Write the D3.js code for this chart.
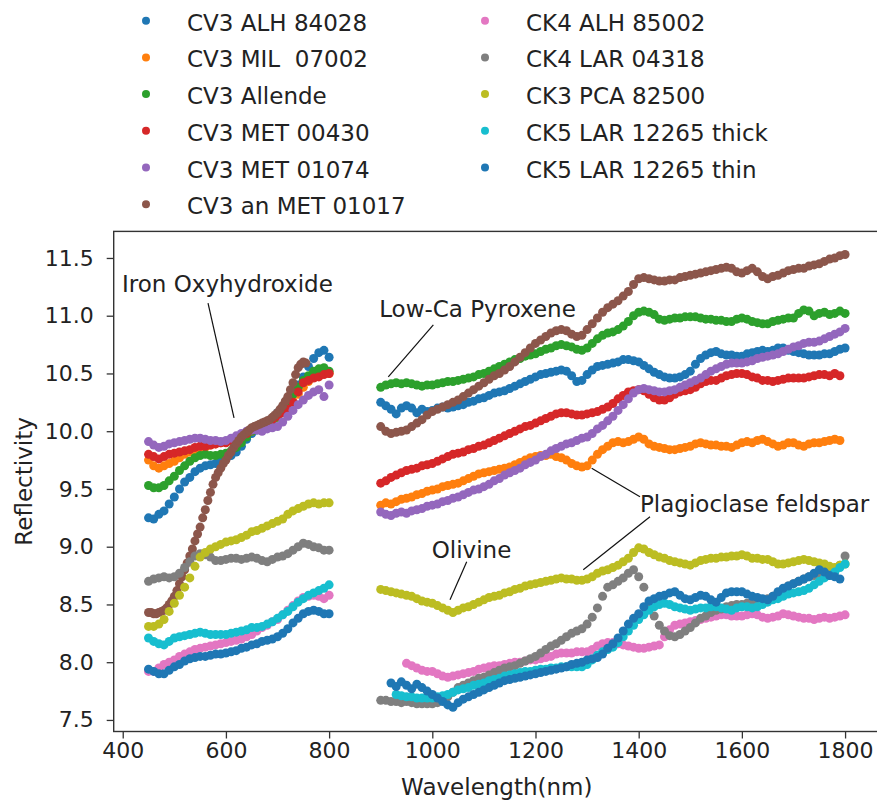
<!DOCTYPE html>
<html>
<head>
<meta charset="utf-8">
<script src="https://cdn.jsdelivr.net/npm/d3@7"></script>
<style>
  body { margin: 0; background: #fff; }
  text { font-family: "DejaVu Sans", sans-serif; fill: #222; }
</style>
</head>
<body>
<div id="chart"></div>
<script>
const width = 877;
const height = 803;

// wavelengths (nm) sampled in the two measured windows
const leftWl = [450, 460, 470, 480, 490, 500, 510, 520, 530, 540, 550, 560, 570, 580, 590, 600, 610, 620,
  630, 640, 650, 660, 670, 680, 690, 700, 710, 720, 730, 740, 750, 760, 770, 780, 790, 800];
// finer grid, used where a spectrum climbs steeply
const leftWlFine = [450, 455, 460, 465, 470, 475, 480, 485, 490, 495,
  500, 505, 510, 515, 520, 525, 530, 535, 540, 545,
  550, 555, 560, 565, 570, 575, 580, 585, 590, 595,
  600, 605, 610, 615, 620, 625, 630, 635, 640, 645,
  650, 655, 660, 665, 670, 675, 680, 685, 690, 695,
  700, 705, 710, 715, 720, 725, 730, 735, 740, 745,
  750, 755, 760, 765, 770, 775, 780, 785, 790, 795,
  800];
const rightWl = [900, 910, 920, 930, 940, 950, 960, 970, 980, 990,
  1000, 1010, 1020, 1030, 1040, 1050, 1060, 1070, 1080, 1090,
  1100, 1110, 1120, 1130, 1140, 1150, 1160, 1170, 1180, 1190,
  1200, 1210, 1220, 1230, 1240, 1250, 1260, 1270, 1280, 1290,
  1300, 1310, 1320, 1330, 1340, 1350, 1360, 1370, 1380, 1390,
  1400, 1410, 1420, 1430, 1440, 1450, 1460, 1470, 1480, 1490,
  1500, 1510, 1520, 1530, 1540, 1550, 1560, 1570, 1580, 1590,
  1600, 1610, 1620, 1630, 1640, 1650, 1660, 1670, 1680, 1690,
  1700, 1710, 1720, 1730, 1740, 1750, 1760, 1770, 1780, 1790,
  1800];

const labels = ["CV3 ALH 84028", "CV3 MIL  07002", "CV3 Allende", "CV3 MET 00430", "CV3 MET 01074",
  "CV3 an MET 01017", "CK4 ALH 85002", "CK4 LAR 04318", "CK3 PCA 82500", "CK5 LAR 12265 thick",
  "CK5 LAR 12265 thin"];
const colors = ["#1f77b4", "#ff7f0e", "#2ca02c", "#d62728", "#9467bd", "#8c564b",
  "#e377c2", "#7f7f7f", "#bcbd22", "#17becf", "#1f77b4"];

// reflectivity values, one array per window per sample
const alh84028Left = [9.25, 9.24, 9.28, 9.31, 9.37, 9.43, 9.5, 9.56, 9.6, 9.65,
  9.68, 9.7, 9.71, 9.72, 9.74, 9.76, 9.79, 9.82, 9.87, 9.93,
  9.98, 10.01, 10.04, 10.07, 10.11, 10.16, 10.21, 10.27, 10.33, 10.4,
  10.47, 10.56, 10.63, 10.68, 10.7, 10.64];
const alh84028Right = [10.25, 10.22, 10.19, 10.15, 10.2, 10.22, 10.2, 10.16, 10.19, 10.17,
  10.18, 10.2, 10.21, 10.2, 10.21, 10.22, 10.23, 10.25, 10.26, 10.28,
  10.29, 10.31, 10.33, 10.34, 10.35, 10.37, 10.39, 10.41, 10.43, 10.45,
  10.47, 10.49, 10.5, 10.51, 10.52, 10.53, 10.52, 10.48, 10.43, 10.44,
  10.49, 10.53, 10.56, 10.57, 10.58, 10.59, 10.6, 10.62, 10.62, 10.61,
  10.6, 10.57, 10.54, 10.51, 10.49, 10.47, 10.46, 10.46, 10.47, 10.49,
  10.52, 10.58, 10.63, 10.66, 10.68, 10.69, 10.67, 10.66, 10.66, 10.65,
  10.65, 10.67, 10.68, 10.69, 10.7, 10.69, 10.7, 10.72, 10.72, 10.7,
  10.69, 10.68, 10.67, 10.66, 10.66, 10.66, 10.67, 10.67, 10.69, 10.71,
  10.72];

const mil07002Left = [9.75, 9.7, 9.68, 9.7, 9.72, 9.74, 9.77, 9.8, 9.82, 9.84,
  9.85, 9.86, 9.88, 9.89, 9.9, 9.91, 9.92, 9.94, 9.96, 9.98,
  10.0, 10.02, 10.05, 10.07, 10.1, 10.12, 10.16, 10.2, 10.26, 10.32,
  10.38, 10.43, 10.48, 10.5, 10.52, 10.5];
const mil07002Right = [9.36, 9.38, 9.37, 9.39, 9.41, 9.42, 9.43, 9.45, 9.46, 9.48,
  9.49, 9.5, 9.52, 9.53, 9.54, 9.55, 9.57, 9.59, 9.61, 9.63,
  9.64, 9.65, 9.66, 9.67, 9.68, 9.69, 9.71, 9.73, 9.75, 9.77,
  9.78, 9.79, 9.79, 9.8, 9.78, 9.77, 9.75, 9.72, 9.7, 9.69,
  9.7, 9.75, 9.8, 9.84, 9.87, 9.9, 9.91, 9.9, 9.91, 9.93,
  9.95, 9.93, 9.89, 9.87, 9.86, 9.85, 9.84, 9.84, 9.85, 9.86,
  9.87, 9.89, 9.9, 9.89, 9.88, 9.88, 9.87, 9.87, 9.86, 9.88,
  9.9, 9.91, 9.9, 9.92, 9.93, 9.91, 9.89, 9.87, 9.88, 9.9,
  9.9, 9.88, 9.87, 9.89, 9.9, 9.9, 9.91, 9.92, 9.93, 9.92,
  null];

const allendeLeft = [9.53, 9.51, 9.51, 9.53, 9.57, 9.61, 9.66, 9.7, 9.74, 9.77,
  9.79, 9.8, 9.79, 9.79, 9.8, 9.81, 9.83, 9.86, 9.9, 9.95,
  10.0, 10.02, 10.05, 10.07, 10.09, 10.12, 10.18, 10.25, 10.32, 10.38,
  10.44, 10.48, 10.52, 10.54, 10.55, 10.52];
const allendeRight = [10.38, 10.4, 10.41, 10.42, 10.41, 10.42, 10.41, 10.4, 10.39, 10.4,
  10.4, 10.41, 10.42, 10.43, 10.43, 10.44, 10.45, 10.46, 10.47, 10.49,
  10.5, 10.52, 10.54, 10.56, 10.58, 10.6, 10.62, 10.63, 10.65, 10.66,
  10.67, 10.69, 10.71, 10.72, 10.74, 10.75, 10.74, 10.73, 10.71, 10.7,
  10.72, 10.76, 10.8, 10.83, 10.85, 10.86, 10.88, 10.91, 10.95, 11.0,
  11.03, 11.04, 11.03, 11.01, 10.97, 10.96, 10.97, 10.98, 10.98, 10.99,
  10.99, 10.99, 10.98, 10.97, 10.97, 10.96, 10.96, 10.95, 10.95, 10.97,
  10.98, 10.97, 10.95, 10.94, 10.93, 10.93, 10.95, 10.96, 10.97, 10.98,
  10.98, 11.02, 11.05, 11.04, 11.0, 11.02, 11.03, 11.01, 11.02, 11.04,
  11.02];

const met00430Left = [9.8, 9.78, 9.76, 9.78, 9.8, 9.81, 9.82, 9.83, 9.84, 9.86,
  9.87, 9.87, 9.88, 9.89, 9.9, 9.9, 9.92, 9.94, 9.96, 9.98,
  10.01, 10.03, 10.06, 10.08, 10.1, 10.13, 10.16, 10.19, 10.25, 10.34,
  10.42, 10.44, 10.46, 10.47, 10.49, 10.5];
const met00430Right = [9.55, 9.57, 9.6, 9.62, 9.64, 9.66, 9.67, 9.68, 9.7, 9.71,
  9.72, 9.74, 9.76, 9.78, 9.8, 9.81, 9.82, 9.84, 9.85, 9.87,
  9.88, 9.9, 9.92, 9.94, 9.96, 9.98, 10.0, 10.02, 10.04, 10.05,
  10.07, 10.09, 10.11, 10.13, 10.15, 10.16, 10.16, 10.15, 10.14, 10.14,
  10.15, 10.16, 10.17, 10.19, 10.21, 10.24, 10.28, 10.31, 10.34, 10.35,
  10.36, 10.35, 10.32, 10.29, 10.27, 10.27, 10.29, 10.32, 10.34, 10.35,
  10.36, 10.38, 10.41, 10.43, 10.44, 10.44, 10.46, 10.48, 10.49, 10.5,
  10.5, 10.49, 10.47, 10.46, 10.44, 10.44, 10.43, 10.44, 10.45, 10.46,
  10.46, 10.46, 10.46, 10.47, 10.48, 10.49, 10.49, 10.48, 10.5, 10.48,
  null];

const met01074Left = [9.91, 9.88, 9.86, 9.87, 9.89, 9.9, 9.91, 9.92, 9.93, 9.94,
  9.94, 9.93, 9.92, 9.92, 9.91, 9.92, 9.94, 9.96, 9.98, 10.0,
  10.01, 10.01, 10.0, 10.02, 10.03, 10.04, 10.08, 10.13, 10.18, 10.23,
  10.27, 10.31, 10.34, 10.36, 10.3, 10.4];
const met01074Right = [9.3, 9.28, 9.27, 9.29, 9.3, 9.29, 9.31, 9.32, 9.33, 9.35,
  9.36, 9.37, 9.39, 9.4, 9.42, 9.43, 9.45, 9.47, 9.49, 9.5,
  9.52, 9.54, 9.57, 9.59, 9.62, 9.64, 9.66, 9.68, 9.71, 9.73,
  9.75, 9.78, 9.8, 9.83, 9.85, 9.87, 9.89, 9.9, 9.92, 9.94,
  9.95, 9.98, 10.02, 10.05, 10.09, 10.13, 10.18, 10.23, 10.28, 10.33,
  10.36, 10.37, 10.36, 10.35, 10.34, 10.34, 10.35, 10.36, 10.38, 10.4,
  10.42, 10.44, 10.46, 10.49, 10.52, 10.54, 10.56, 10.58, 10.59, 10.59,
  10.59, 10.6, 10.61, 10.63, 10.64, 10.65, 10.66, 10.67, 10.69, 10.71,
  10.73, 10.74, 10.76, 10.77, 10.77, 10.78, 10.8, 10.82, 10.84, 10.86,
  10.89];

// on the 5 nm grid
const met01017Left = [8.43, 8.43, 8.42, 8.42, 8.43, 8.44, 8.45, 8.47, 8.5, 8.53,
  8.57, 8.62, 8.68, 8.74, 8.8, 8.86, 8.92, 8.98, 9.05, 9.11,
  9.17, 9.25, 9.32, 9.4, 9.47, 9.54, 9.6, 9.64, 9.68, 9.72,
  9.75, 9.79, 9.82, 9.86, 9.89, 9.92, 9.95, 9.97, 9.99, 10.01,
  10.03, 10.04, 10.05, 10.06, 10.07, 10.08, 10.09, 10.1, 10.12, 10.14,
  10.16, 10.19, 10.22, 10.26, 10.3, 10.36, 10.42, 10.49, 10.55, 10.58,
  10.6, 10.59, null, null, null, null, null, null, null, null,
  null];
const met01017Right = [10.04, 10.0, 9.98, 9.99, 10.0, 10.01, 10.04, 10.07, 10.1, 10.14,
  10.17, 10.19, 10.21, 10.23, 10.25, 10.27, 10.3, 10.33, 10.36, 10.39,
  10.42, 10.45, 10.48, 10.5, 10.53, 10.56, 10.6, 10.64, 10.68, 10.72,
  10.76, 10.79, 10.82, 10.85, 10.87, 10.88, 10.87, 10.84, 10.82, 10.83,
  10.88, 10.93, 10.98, 11.03, 11.07, 11.1, 11.13, 11.17, 11.21, 11.27,
  11.32, 11.33, 11.32, 11.31, 11.3, 11.3, 11.31, 11.31, 11.33, 11.34,
  11.35, 11.36, 11.37, 11.38, 11.39, 11.4, 11.41, 11.42, 11.41, 11.38,
  11.37, 11.39, 11.41, 11.38, 11.34, 11.32, 11.34, 11.35, 11.37, 11.39,
  11.4, 11.41, 11.41, 11.43, 11.44, 11.45, 11.47, 11.49, 11.5, 11.52,
  11.53];

const alh85002Left = [7.92, 7.92, 7.95, 7.98, 8.0, 8.02, 8.05, 8.07, 8.09, 8.11,
  8.12, 8.13, 8.14, 8.15, 8.16, 8.17, 8.18, 8.19, 8.2, 8.22,
  8.24, 8.27, 8.3, 8.32, 8.35, 8.37, 8.41, 8.45, 8.49, 8.53,
  8.56, 8.57, 8.58, 8.57, 8.55, 8.58];
const alh85002Right = [null, null, null, null, null, 7.99, 7.97, 7.95, 7.93, 7.92,
  7.92, 7.9, 7.88, 7.87, 7.88, 7.89, 7.9, 7.91, 7.92, 7.94,
  7.95, 7.96, 7.97, 7.97, 7.98, 7.99, 8.0, 8.0, 8.01, 8.02,
  8.02, 8.03, 8.04, 8.05, 8.07, 8.08, 8.08, 8.08, 8.09, 8.09,
  8.09, 8.11, 8.14, 8.16, 8.17, 8.17, 8.16, 8.15, 8.14, 8.13,
  8.12, 8.12, 8.13, 8.14, 8.15, 8.22, 8.28, 8.32, 8.33, 8.34,
  8.35, 8.36, 8.37, 8.38, 8.39, 8.4, 8.41, 8.41, 8.4, 8.4,
  8.4, 8.41, 8.42, 8.41, 8.39, 8.38, 8.39, 8.4, 8.42, 8.41,
  8.4, 8.39, 8.38, 8.38, 8.37, 8.38, 8.39, 8.38, 8.39, 8.4,
  8.41];

const lar04318Left = [8.7, 8.72, 8.73, 8.74, 8.73, 8.74, 8.77, 8.82, 8.87, 8.92,
  8.94, 8.93, 8.91, 8.88, 8.88, 8.89, 8.9, 8.9, 8.89, 8.9,
  8.91, 8.9, 8.88, 8.87, 8.89, 8.91, 8.92, 8.94, 8.97, 9.0,
  9.03, 9.02, 9.0, 8.99, 8.97, 8.97];
const lar04318Right = [7.67, 7.67, 7.66, 7.66, 7.65, 7.66, 7.65, 7.64, 7.64, 7.64,
  7.64, 7.65, 7.67, 7.7, 7.74, 7.78, 7.8, 7.82, 7.84, 7.86,
  7.87, 7.89, 7.91, 7.93, 7.95, 7.96, 7.97, 7.99, 8.01, 8.03,
  8.05, 8.08, 8.11, 8.14, 8.16, 8.19, 8.22, 8.25, 8.27, 8.29,
  8.33, 8.39, 8.47, 8.57, 8.65, 8.67, 8.7, 8.73, 8.77, 8.8,
  8.74, 8.65, 8.5, 8.4, 8.32, 8.27, 8.23, 8.22, 8.24, 8.27,
  8.3, 8.34, 8.38, 8.4, 8.43, 8.45, 8.46, 8.48, 8.49, 8.5,
  8.5, 8.51, 8.52, 8.53, 8.54, 8.55, 8.57, 8.6, 8.63, 8.66,
  8.68, 8.7, 8.72, 8.74, 8.75, 8.76, 8.77, 8.77, 8.78, 8.84,
  8.92];

const pca82500Left = [8.31, 8.31, 8.33, 8.37, 8.44, 8.51, 8.58, 8.65, 8.73, 8.83,
  8.91, 8.95, 8.98, 9.0, 9.02, 9.04, 9.05, 9.06, 9.08, 9.1,
  9.13, 9.14, 9.16, 9.18, 9.2, 9.22, 9.24, 9.28, 9.31, 9.33,
  9.35, 9.37, 9.38, 9.37, 9.38, 9.38];
const pca82500Right = [8.63, 8.62, 8.61, 8.6, 8.59, 8.58, 8.57, 8.55, 8.53, 8.52,
  8.51, 8.49, 8.47, 8.45, 8.43, 8.45, 8.47, 8.48, 8.5, 8.52,
  8.54, 8.56, 8.57, 8.58, 8.6, 8.61, 8.63, 8.64, 8.66, 8.67,
  8.68, 8.69, 8.7, 8.71, 8.72, 8.73, 8.72, 8.72, 8.71, 8.71,
  8.72, 8.74, 8.77, 8.79, 8.8, 8.82, 8.84, 8.87, 8.9, 8.95,
  8.99, 8.98, 8.95, 8.93, 8.91, 8.9, 8.88, 8.87, 8.86, 8.85,
  8.84, 8.86, 8.88, 8.89, 8.9, 8.9, 8.91, 8.91, 8.92, 8.92,
  8.93, 8.92, 8.9, 8.9, 8.89, 8.89, 8.87, 8.85, 8.85, 8.86,
  8.87, 8.88, 8.89, 8.88, 8.87, 8.86, 8.85, 8.83, 8.82, 8.84,
  8.85];

const lar12265ThickLeft = [8.21, 8.18, 8.16, 8.15, 8.18, 8.21, 8.22, 8.23, 8.24, 8.25,
  8.26, 8.25, 8.24, 8.24, 8.24, 8.24, 8.25, 8.26, 8.27, 8.28,
  8.3, 8.3, 8.31, 8.33, 8.35, 8.38, 8.41, 8.44, 8.48, 8.52,
  8.55, 8.58, 8.6, 8.62, 8.64, 8.67];
const lar12265ThickRight = [null, null, null, 7.72, 7.71, 7.7, 7.7, 7.69, 7.69, 7.69,
  7.69, 7.7, 7.71, 7.72, 7.74, 7.76, 7.77, 7.78, 7.8, 7.81,
  7.82, 7.84, 7.85, 7.86, 7.88, 7.89, 7.9, 7.91, 7.92, 7.92,
  7.93, 7.94, 7.94, 7.95, 7.95, 7.96, 7.96, 7.96, 7.96, 7.96,
  7.98, 8.02, 8.06, 8.09, 8.11, 8.13, 8.17, 8.22, 8.27, 8.32,
  8.37, 8.41, 8.45, 8.48, 8.5, 8.51, 8.5, 8.48, 8.47, 8.46,
  8.45, 8.46, 8.47, 8.47, 8.48, 8.48, 8.47, 8.46, 8.45, 8.47,
  8.48, 8.48, 8.47, 8.48, 8.5, 8.52, 8.54, 8.55, 8.57, 8.59,
  8.6, 8.61, 8.62, 8.64, 8.67, 8.7, 8.73, 8.75, 8.78, 8.82,
  8.85];

const lar12265ThinLeft = [7.94, 7.92, 7.9, 7.9, 7.93, 7.96, 7.98, 8.01, 8.03, 8.04,
  8.05, 8.05, 8.06, 8.07, 8.07, 8.08, 8.09, 8.1, 8.12, 8.13,
  8.15, 8.16, 8.18, 8.19, 8.2, 8.22, 8.25, 8.29, 8.34, 8.38,
  8.42, 8.44, 8.45, 8.44, 8.42, 8.42];
const lar12265ThinRight = [null, null, 7.82, 7.79, 7.83, 7.8, 7.77, 7.81, 7.78, 7.75,
  7.72, 7.69, 7.66, 7.63, 7.61, 7.65, 7.68, 7.7, 7.72, 7.74,
  7.76, 7.78, 7.8, 7.82, 7.84, 7.85, 7.86, 7.87, 7.88, 7.89,
  7.9, 7.91, 7.92, 7.93, 7.94, 7.95, 7.96, 7.98, 7.99, 8.0,
  8.02, 8.03, 8.04, 8.07, 8.12, 8.16, 8.21, 8.27, 8.33, 8.38,
  8.42, 8.48, 8.53, 8.55, 8.57, 8.58, 8.6, 8.61, 8.58, 8.55,
  8.54, 8.56, 8.58, 8.57, 8.54, 8.52, 8.56, 8.6, 8.61, 8.61,
  8.61, 8.59, 8.57, 8.56, 8.55, 8.54, 8.57, 8.61, 8.64, 8.66,
  8.68, 8.7, 8.72, 8.74, 8.77, 8.8, 8.78, 8.75, 8.74, 8.72,
  null];

const leftValues = [alh84028Left, mil07002Left, allendeLeft, met00430Left, met01074Left, met01017Left,
  alh85002Left, lar04318Left, pca82500Left, lar12265ThickLeft, lar12265ThinLeft];
const leftGrids = [leftWl, leftWl, leftWl, leftWl, leftWl, leftWlFine,
  leftWl, leftWl, leftWl, leftWl, leftWl];
const rightValues = [alh84028Right, mil07002Right, allendeRight, met00430Right, met01074Right, met01017Right,
  alh85002Right, lar04318Right, pca82500Right, lar12265ThickRight, lar12265ThinRight];

const xTicks = [400, 600, 800, 1000, 1200, 1400, 1600, 1800];
const yTicks = [7.5, 8.0, 8.5, 9.0, 9.5, 10.0, 10.5, 11.0, 11.5];

// annotations: text anchor and leader lines, in data units
const notes = [
  { text: "Iron Oxyhydroxide", x: 398.6, y: 11.206, lines: [[565.3, 11.11, 615.7, 10.115]] },
  { text: "Low-Ca Pyroxene", x: 897, y: 10.99, lines: [[1002, 10.92, 914.7, 10.47]] },
  { text: "Olivine", x: 998.8, y: 8.9, lines: [[1066.7, 8.87, 1034.3, 8.54]] },
  { text: "Plagioclase feldspar", x: 1402.5, y: 9.303,
    lines: [[1402.5, 9.433, 1308.9, 9.68], [1421.9, 9.26, 1292.6, 8.8]] }
];

const svg = d3.select("#chart")
  .append("svg")
  .attr("width", width)
  .attr("height", height);

const x = d3.scaleLinear().domain([382.5, 1867.5]).range([113.7, 879.9]);
const y = d3.scaleLinear().domain([7.4, 11.73]).range([731.5, 231.4]);

// Scatter points, one series after another so later ones sit on top
const series = labels.map((name, i) => ({
  name: name,
  color: colors[i],
  points: leftGrids[i].map((w, j) => ({ w: w, v: leftValues[i][j] }))
    .concat(rightWl.map((w, j) => ({ w: w, v: rightValues[i][j] })))
    .filter(d => d.v != null)
}));

const dots = svg.append("g");
series.forEach(s => {
  dots.append("g")
    .attr("fill", s.color)
    .selectAll("circle")
    .data(s.points)
    .enter()
    .append("circle")
    .attr("cx", d => x(d.w))
    .attr("cy", d => y(d.v))
    .attr("r", 4.5);
});

// Axes
const tickFont = 22;
const labelFont = 23;
const xAxis = svg.append("g")
  .attr("transform", `translate(0,${y.range()[0]})`)
  .call(d3.axisBottom(x).tickValues(xTicks).tickSize(7).tickPadding(4).tickFormat(d3.format("d")));
const yAxis = svg.append("g")
  .attr("transform", `translate(${x.range()[0]},0)`)
  .call(d3.axisLeft(y).tickValues(yTicks).tickSize(7).tickPadding(13).tickFormat(d3.format(".1f")));

[xAxis, yAxis].forEach(a => {
  a.select(".domain").remove();
  a.selectAll(".tick line").attr("stroke", "#333").attr("stroke-width", 1.3);
  a.selectAll(".tick text")
    .attr("font-size", tickFont)
    .attr("font-family", "DejaVu Sans")
    .attr("fill", "#222");
});

// frame
svg.append("rect")
  .attr("x", x.range()[0])
  .attr("y", y.range()[1])
  .attr("width", x.range()[1] - x.range()[0])
  .attr("height", y.range()[0] - y.range()[1])
  .attr("fill", "none")
  .attr("stroke", "#333")
  .attr("stroke-width", 1.4);

svg.append("text")
  .attr("x", (x.range()[0] + x.range()[1]) / 2)
  .attr("y", 795)
  .attr("text-anchor", "middle")
  .attr("font-size", labelFont)
  .text("Wavelength(nm)");

svg.append("text")
  .attr("transform", `translate(32,${(y.range()[0] + y.range()[1]) / 2}) rotate(-90)`)
  .attr("text-anchor", "middle")
  .attr("font-size", labelFont)
  .text("Reflectivity");

// Annotations
notes.forEach(n => {
  svg.append("text")
    .attr("x", x(n.x))
    .attr("y", y(n.y))
    .attr("font-size", labelFont)
    .text(n.text);
  n.lines.forEach(l => {
    svg.append("line")
      .attr("x1", x(l[0])).attr("y1", y(l[1]))
      .attr("x2", x(l[2])).attr("y2", y(l[3]))
      .attr("stroke", "#111")
      .attr("stroke-width", 1.2);
  });
});

// Legend, two columns filled top to bottom
const legend = svg.append("g");
series.forEach((s, i) => {
  const col = i < 6 ? 0 : 1;
  const row = col === 0 ? i : i - 6;
  const g = legend.append("g")
    .attr("transform", `translate(${col === 0 ? 146 : 485},${20.7 + row * 36.7})`);
  g.append("circle").attr("r", 4).attr("fill", s.color);
  g.append("text")
    .attr("x", 41)
    .attr("y", 10)
    .attr("font-size", labelFont)
    .style("white-space", "pre")
    .text(s.name);
});
</script>
</body>
</html>
